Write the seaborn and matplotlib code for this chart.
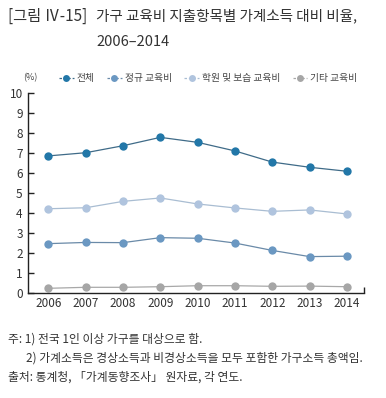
import matplotlib
matplotlib.use("Agg")
import matplotlib.pyplot as plt
from matplotlib.lines import Line2D
import seaborn as sns
import pandas as pd

# data
years = [2006, 2007, 2008, 2009, 2010, 2011, 2012, 2013, 2014]
total = [6.86, 7.02, 7.37, 7.79, 7.54, 7.11, 6.55, 6.29, 6.09]
regular = [2.46, 2.52, 2.51, 2.76, 2.73, 2.49, 2.12, 1.81, 1.83]
private = [4.21, 4.26, 4.58, 4.75, 4.45, 4.25, 4.08, 4.15, 3.95]
other = [0.22, 0.27, 0.27, 0.30, 0.35, 0.35, 0.32, 0.33, 0.30]
series_names = ["전체", "정규 교육비", "학원 및 보습 교육비", "기타 교육비"]
y_ticks = list(range(0, 11))

sns.set_theme(style="white")
plt.rcParams["font.family"] = ["Noto Sans CJK KR", "DejaVu Sans"]

marker_colors = ["#2277a8", "#6b98c2", "#b0c4de", "#a6a6a6"]
line_colors = ["#3f6b88", "#6a8aa8", "#a9bdd2", "#a8a8a8"]

df = pd.DataFrame({
    "year": years * 4,
    "value": total + regular + private + other,
    "series": sum([[n] * len(years) for n in series_names], []),
})

fig = plt.figure(figsize=(3.86, 3.98), dpi=100)
ax = fig.add_axes([0.0733, 0.2646, 0.8707, 0.501])

for name, mc, lc in zip(series_names, marker_colors, line_colors):
    sub = df[df["series"] == name]
    sns.lineplot(data=sub, x="year", y="value", ax=ax, color=lc, linewidth=0.9,
                 marker="o", markersize=6, markerfacecolor=mc, markeredgewidth=0,
                 legend=False)

ax.set_xlim(2005.46, 2014.47)
ax.set_ylim(0, 10)
ax.set_xticks(years)
ax.set_xticklabels([str(y) for y in years])
ax.set_yticks(y_ticks)
ax.set_xlabel("")
ax.set_ylabel("")
for s in ["top", "right"]:
    ax.spines[s].set_visible(False)
for s in ["left", "bottom"]:
    ax.spines[s].set_color("#222222")
    ax.spines[s].set_linewidth(1.0)
ax.tick_params(axis="y", direction="in", length=4, width=1, color="#222222",
               labelsize=8.5, labelcolor="#333333", pad=4, left=True)
ax.tick_params(axis="x", length=0, labelsize=8.5, labelcolor="#333333", pad=3)
ax.set_xticks([2014.47], minor=True)
ax.tick_params(axis="x", which="minor", direction="in", length=4, width=1,
               color="#222222", bottom=True)

# legend
handles = [Line2D([0], [0], color=lc, linestyle=(0, (2, 1.5)), linewidth=0.9,
                  marker="o", markersize=5, markerfacecolor=mc, markeredgewidth=0)
           for mc, lc in zip(marker_colors, line_colors)]
fig.legend(handles, series_names, loc="center left", bbox_to_anchor=(0.13, 0.804),
           ncol=4, frameon=False, fontsize=7, handlelength=1.5, handletextpad=0.3,
           columnspacing=1.3, labelcolor="#444444")
fig.text(0.078, 0.804, "(%)", fontsize=6.5, color="#444444", ha="center", va="center")

# title
fig.text(0.02, 0.96, "[그림 Ⅳ-15]", fontsize=11, color="#333333", va="center")
fig.text(0.25, 0.96, "가구 교육비 지출항목별 가계소득 대비 비율,", fontsize=10.5,
         color="#333333", va="center")
fig.text(0.25, 0.895, "2006–2014", fontsize=10.5, color="#333333", va="center")

# notes
fig.text(0.02, 0.148, "주: 1) 전국 1인 이상 가구를 대상으로 함.", fontsize=8.5,
         color="#333333", va="center")
fig.text(0.068, 0.1, "2) 가계소득은 경상소득과 비경상소득을 모두 포함한 가구소득 총액임.",
         fontsize=8.5, color="#333333", va="center")
fig.text(0.02, 0.053, "출처: 통계청, 「가계동향조사」 원자료, 각 연도.", fontsize=8.5,
         color="#333333", va="center")

fig.savefig("out.png", dpi=100)
